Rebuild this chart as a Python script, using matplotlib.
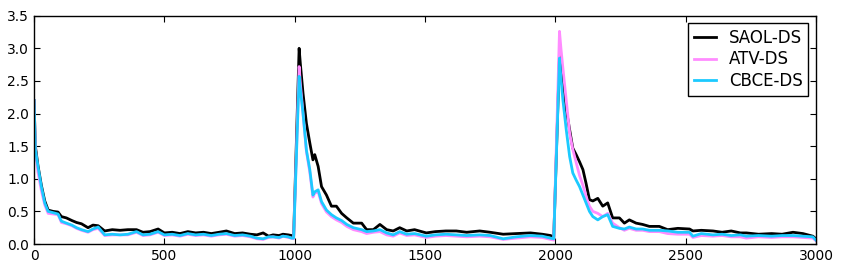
import matplotlib
matplotlib.use("Agg")
import matplotlib.pyplot as plt

# sample positions (shared by all three curves)
steps = [0, 5, 15, 28, 41, 54, 73, 92, 105, 124, 145, 163, 182, 207, 226, 246, 271, 300, 330, 360,
         393, 418, 445, 476, 500, 530, 560, 590, 620, 650, 680, 710, 738, 770, 800, 830, 855, 879, 900, 917,
         940, 955, 975, 988, 996,
         1017, 1022, 1032, 1045, 1058, 1070, 1077, 1090, 1103, 1122, 1141, 1160, 1180, 1200, 1225, 1257, 1276, 1302, 1327, 1353,
         1378, 1403, 1430, 1460, 1505, 1540, 1580, 1620, 1660, 1710, 1750, 1800, 1850, 1905, 1950, 1982, 1994,
         2016, 2022, 2029, 2042, 2055, 2067, 2080, 2093, 2106, 2118, 2131, 2144, 2163, 2182, 2201, 2220, 2246, 2265, 2284, 2310,
         2335, 2361, 2399, 2431, 2470, 2515, 2528, 2560, 2605, 2640, 2675, 2710, 2733, 2780, 2830, 2870, 2912, 2950, 2988, 3000]

saol = [2.2, 1.5, 1.2, 0.9, 0.66, 0.52, 0.5, 0.49, 0.42, 0.40, 0.36, 0.33, 0.31, 0.25, 0.29, 0.28, 0.2, 0.22, 0.21, 0.22,
        0.22, 0.18, 0.19, 0.23, 0.17, 0.18, 0.16, 0.19, 0.17, 0.18, 0.16, 0.18, 0.2, 0.16, 0.17, 0.15, 0.14, 0.17, 0.12, 0.14,
        0.13, 0.15, 0.14, 0.13, 0.12,
        3.0, 2.75, 2.31, 1.85, 1.55, 1.29, 1.37, 1.19, 0.88, 0.75, 0.58, 0.58, 0.47, 0.40, 0.32, 0.32, 0.22, 0.22, 0.30, 0.22,
        0.20, 0.25, 0.2, 0.22, 0.17, 0.19, 0.2, 0.2, 0.18, 0.2, 0.18, 0.15, 0.16, 0.17, 0.15, 0.13, 0.1,
        2.9, 2.75, 2.57, 2.06, 1.75, 1.47, 1.37, 1.26, 1.14, 0.93, 0.68, 0.66, 0.70, 0.58, 0.63, 0.40, 0.40, 0.32, 0.37, 0.32,
        0.30, 0.27, 0.27, 0.22, 0.24, 0.23, 0.2, 0.21, 0.2, 0.18, 0.2, 0.17, 0.17, 0.15, 0.16, 0.15, 0.18, 0.16, 0.12, 0.08]

atv = [2.2, 1.45, 1.1, 0.82, 0.6, 0.47, 0.46, 0.45, 0.33, 0.31, 0.28, 0.24, 0.21, 0.18, 0.22, 0.24, 0.13, 0.14, 0.14, 0.14,
       0.18, 0.13, 0.14, 0.18, 0.13, 0.14, 0.12, 0.15, 0.13, 0.14, 0.12, 0.14, 0.15, 0.12, 0.13, 0.11, 0.08, 0.07, 0.1, 0.11,
       0.09, 0.12, 0.1, 0.09, 0.08,
       2.72, 2.45, 2.0, 1.42, 1.1, 0.72, 0.78, 0.8, 0.62, 0.49, 0.42, 0.37, 0.33, 0.27, 0.22, 0.19, 0.16, 0.18, 0.19, 0.14,
       0.12, 0.17, 0.13, 0.14, 0.1, 0.12, 0.13, 0.12, 0.11, 0.12, 0.11, 0.07, 0.09, 0.11, 0.1, 0.07, 0.06,
       3.26, 2.98, 2.7, 2.2, 1.7, 1.45, 1.25, 1.05, 0.9, 0.73, 0.58, 0.5, 0.47, 0.42, 0.47, 0.32, 0.25, 0.21, 0.24, 0.21,
       0.21, 0.19, 0.19, 0.16, 0.15, 0.15, 0.1, 0.13, 0.12, 0.13, 0.11, 0.11, 0.09, 0.11, 0.1, 0.11, 0.11, 0.1, 0.09, 0.05]

cbce = [2.2, 1.44, 1.19, 0.88, 0.63, 0.5, 0.48, 0.46, 0.35, 0.32, 0.29, 0.25, 0.22, 0.19, 0.23, 0.26, 0.14, 0.15, 0.14, 0.15,
        0.19, 0.14, 0.15, 0.19, 0.14, 0.15, 0.13, 0.16, 0.14, 0.15, 0.13, 0.15, 0.16, 0.13, 0.14, 0.12, 0.09, 0.08, 0.11, 0.11,
        0.1, 0.12, 0.11, 0.09, 0.09,
        2.57, 2.36, 2.0, 1.44, 1.14, 0.75, 0.8, 0.83, 0.65, 0.52, 0.45, 0.40, 0.36, 0.30, 0.25, 0.22, 0.19, 0.2, 0.22, 0.17,
        0.14, 0.19, 0.15, 0.16, 0.12, 0.14, 0.15, 0.14, 0.13, 0.14, 0.13, 0.08, 0.11, 0.13, 0.12, 0.09, 0.08,
        2.85, 2.52, 2.21, 1.75, 1.34, 1.09, 0.98, 0.88, 0.75, 0.63, 0.5, 0.42, 0.37, 0.42, 0.45, 0.27, 0.24, 0.23, 0.26, 0.23,
        0.23, 0.21, 0.21, 0.2, 0.18, 0.18, 0.12, 0.16, 0.14, 0.15, 0.13, 0.14, 0.12, 0.13, 0.12, 0.13, 0.13, 0.12, 0.11, 0.06]

labels = ["SAOL-DS", "ATV-DS", "CBCE-DS"]
colors = ["black", "#ff8cff", "#1ccaff"]

fig = plt.figure(figsize=(8.41, 2.71), dpi=100)
ax = fig.add_axes([0.0405, 0.0996, 0.9297, 0.8425])

for ys, lab, c in zip([saol, atv, cbce], labels, colors):
    ax.plot(steps, ys, color=c, lw=2, label=lab)

ax.set_xlim(0, 3000)
ax.set_ylim(0, 3.5)
ax.set_xticks([0, 500, 1000, 1500, 2000, 2500, 3000])
ax.set_yticks([0.0, 0.5, 1.0, 1.5, 2.0, 2.5, 3.0, 3.5])
ax.set_yticklabels(["0.0", "0.5", "1.0", "1.5", "2.0", "2.5", "3.0", "3.5"])
ax.tick_params(direction="in", top=True, right=True, length=4, labelsize=10)
for s in ax.spines.values():
    s.set_linewidth(1)

leg = ax.legend(loc="upper right", fontsize=12, fancybox=False, framealpha=1,
                edgecolor="black", handlelength=1.3, labelspacing=0.2,
                borderpad=0.35, borderaxespad=0.45)
leg.get_frame().set_linewidth(1)

fig.savefig("out.png", dpi=100)
